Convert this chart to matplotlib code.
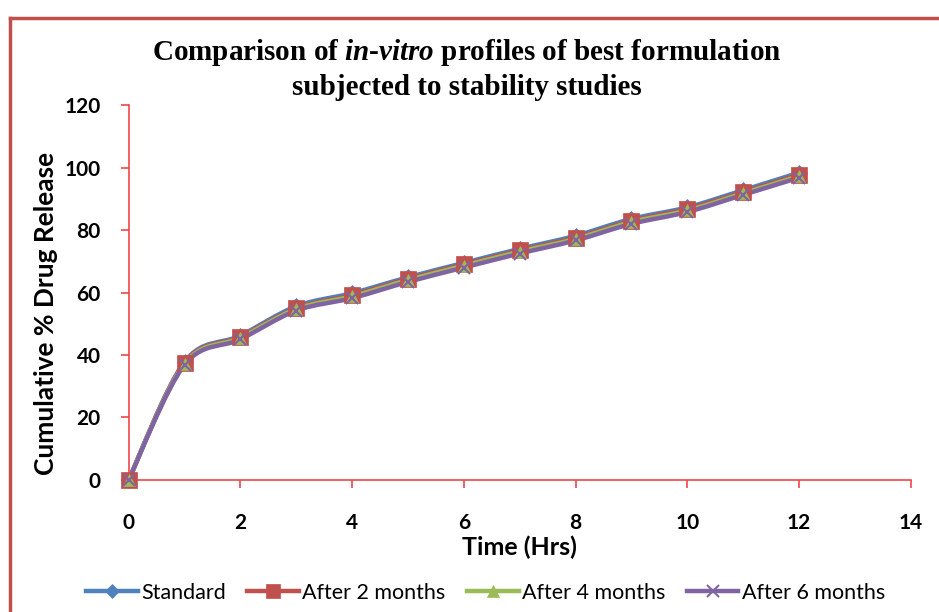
import numpy as np
import matplotlib
matplotlib.use('Agg')
import matplotlib.pyplot as plt
from matplotlib.path import Path
from matplotlib.patches import PathPatch
from matplotlib.lines import Line2D


hours = [0, 1, 2, 3, 4, 5, 6, 7, 8, 9, 10, 11, 12]
standard = [0, 37.8, 46.2, 55.6, 59.8, 64.9, 69.5, 74.0, 78.2, 83.6, 87.3, 92.8, 98.4]
after_2_months = [0, 37.5, 45.8, 55.0, 59.2, 64.4, 69.0, 73.5, 77.6, 83.0, 86.8, 92.2, 97.8]
after_4_months = [0, 37.2, 45.5, 54.7, 58.8, 64.0, 68.6, 73.1, 77.2, 82.6, 86.3, 91.8, 97.3]
after_6_months = [0, 36.8, 45.0, 54.2, 58.2, 63.4, 68.0, 72.5, 76.7, 82.0, 85.8, 91.3, 96.8]

labels = ['Standard', 'After 2 months', 'After 4 months', 'After 6 months']
colors = ['#4F81BD', '#C0504D', '#9BBB59', '#8064A2']
markers = ['D', 's', '^', 'x']
msizes = [8, 11, 9, 9]

TICK_FONT = 'Lato'
RED = '#F0464B'

plt.rcParams['mathtext.fontset'] = 'custom'
plt.rcParams['mathtext.rm'] = 'Liberation Serif:bold'
plt.rcParams['mathtext.it'] = 'Liberation Serif:italic:bold'


def smooth_path(x, y):
    # excel style smoothed line: catmull-rom segments as cubic beziers
    p = np.column_stack([x, y]).astype(float)
    n = len(p)
    verts = [p[0]]
    codes = [Path.MOVETO]
    for i in range(n - 1):
        p0 = p[i - 1] if i > 0 else p[i]
        p3 = p[i + 2] if i + 2 < n else p[i + 1]
        c1 = p[i] + (p[i + 1] - p0) / 6.0
        c2 = p[i + 1] - (p3 - p[i]) / 6.0
        verts += [c1, c2, p[i + 1]]
        codes += [Path.CURVE4] * 3
    return Path(verts, codes)


fig = plt.figure(figsize=(9.39, 6.12), dpi=100)
ax = fig.add_axes([0.137, 0.216, 0.833, 0.612])

series = [standard, after_2_months, after_4_months, after_6_months]
for vals, c in zip(series, colors):
    ax.add_patch(PathPatch(smooth_path(hours, vals), facecolor='none',
                           edgecolor=c, lw=3.2, capstyle='round', zorder=2))
for vals, c, m, ms in zip(series, colors, markers, msizes):
    ax.plot(hours, vals, ls='none', marker=m, color=c, ms=ms,
            mew=1.5 if m == 'x' else 0.5, zorder=3, clip_on=False)

ax.set_xlim(0, 14)
ax.set_ylim(0, 120)
ax.set_xticks(range(0, 15, 2))
ax.set_yticks(range(0, 121, 20))

for s in ['top', 'right']:
    ax.spines[s].set_visible(False)
for s in ['left', 'bottom']:
    ax.spines[s].set_color(RED)
    ax.spines[s].set_linewidth(1.2)
ax.tick_params(colors=RED, length=6, width=1.2)
ax.tick_params(axis='x', pad=18)
ax.tick_params(axis='y', pad=14)
for lab in ax.get_xticklabels() + ax.get_yticklabels():
    lab.set_color('black')
    lab.set_fontfamily(TICK_FONT)
    lab.set_fontweight('bold')
    lab.set_fontsize(15)

ax.set_xlabel('Time (Hrs)', fontfamily=TICK_FONT, fontweight='bold',
              fontsize=18, labelpad=2)
ax.set_ylabel('Cumulative % Drug Release', fontfamily=TICK_FONT,
              fontweight='bold', fontsize=19)
ax.yaxis.set_label_coords(-0.09, 0.443)

fig.text(0.497, 0.915, 'Comparison of $\\it{in}$-$\\it{vitro}$ profiles of best formulation',
         ha='center', va='center', fontfamily='Liberation Serif',
         fontweight='bold', fontsize=21)
fig.text(0.497, 0.857, 'subjected to stability studies', ha='center',
         va='center', fontfamily='Liberation Serif', fontweight='bold',
         fontsize=21)

handles = [Line2D([], [], color=c, lw=3.2, marker=m, ms=ms * 0.9,
                  mew=1.5 if m == 'x' else 0.5)
           for c, m, ms in zip(colors, markers, msizes)]
fig.legend(handles, labels, loc='center', bbox_to_anchor=(0.517, 0.031),
           ncol=4, frameon=False, handlelength=2.4, columnspacing=1.0,
           handletextpad=0.15, prop={'family': TICK_FONT, 'size': 15.5})

# outer chart frame (left and top edges)
fig.add_artist(Line2D([0.011, 0.011], [0.0, 0.971], color='#C0504D', lw=2.5,
                      transform=fig.transFigure))
fig.add_artist(Line2D([0.011, 1.0], [0.971, 0.971], color='#C0504D', lw=2.5,
                      transform=fig.transFigure))

fig.savefig('out.png', dpi=100)
